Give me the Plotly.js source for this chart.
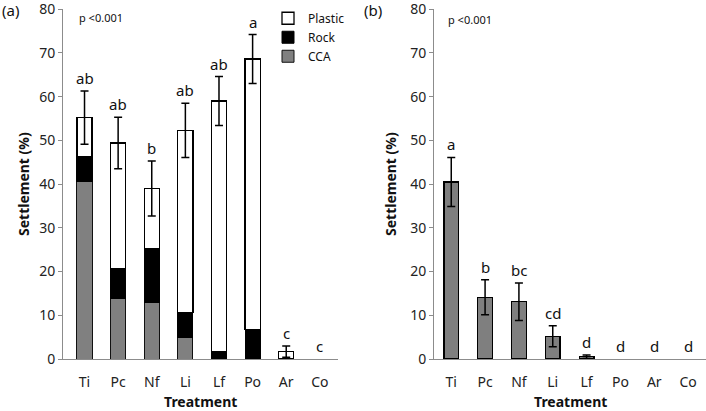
<!DOCTYPE html>
<html><head><meta charset="utf-8">
<script src="https://cdn.plot.ly/plotly-3.0.1.min.js"></script>
<style>html,body{margin:0;padding:0;background:#fff}#chart{width:706px;height:411px}</style>
</head><body><div id="chart"></div>
<script>
// Panel (a): settlement by substrate
var categories = ["Ti","Pc","Nf","Li","Lf","Po","Ar","Co"];
var ccaA     = [40.5, 13.9, 12.9, 5.0, 0, 0, 0, 0];
var rockA    = [5.8, 6.7, 12.4, 5.6, 1.7, 6.7, 0, 0];
var plasticA = [8.9, 28.8, 13.7, 41.7, 57.3, 61.9, 1.7, 0];
var errA     = [6.1, 5.9, 6.3, 6.2, 5.6, 5.6, 1.3, 0];
var lettersA = ["ab","ab","b","ab","ab","a","c","c"];
// Panel (b): settlement on CCA
var valuesB  = [40.5, 14.1, 13.1, 5.2, 0.5, 0, 0, 0];
var errB     = [5.6, 4.0, 4.3, 2.4, 0.4, 0, 0, 0];
var lettersB = ["a","b","bc","cd","d","d","d","d"];
var yTicks = [0,10,20,30,40,50,60,70,80];

var FONT = "Noto Sans, Open Sans, sans-serif";
var totalsA = categories.map(function(c,i){return ccaA[i]+rockA[i]+plasticA[i];});
function lw(arr, w){return arr.map(function(v){return v>0?w:0;});}

var traces = [
  {type:"bar", name:"CCA", x:categories, y:ccaA, xaxis:"x", yaxis:"y", width:0.45,
   marker:{color:"#808080", line:{color:"#111", width:lw(ccaA,1)}}},
  {type:"bar", name:"Rock", x:categories, y:rockA, xaxis:"x", yaxis:"y", width:0.45,
   marker:{color:"#000", line:{color:"#000", width:lw(rockA,1)}}},
  {type:"bar", name:"Plastic", x:categories, y:plasticA, xaxis:"x", yaxis:"y", width:0.45,
   marker:{color:"#fff", line:{color:"#000", width:lw(plasticA,1.3)}}},
  {type:"scatter", mode:"markers", x:categories, y:totalsA.map(function(v){return v>0?v:null;}), xaxis:"x", yaxis:"y", showlegend:false,
   marker:{opacity:0, size:1}, hoverinfo:"skip",
   error_y:{type:"data", array:errA, visible:true, color:"#000", thickness:1.5, width:4}},
  {type:"bar", name:"CCA b", x:categories, y:valuesB, xaxis:"x2", yaxis:"y2", width:0.43, showlegend:false,
   marker:{color:"#7f7f7f", line:{color:"#000", width:lw(valuesB,1.3)}}},
  {type:"scatter", mode:"markers", x:categories, y:valuesB.map(function(v){return v>0?v:null;}), xaxis:"x2", yaxis:"y2", showlegend:false,
   marker:{opacity:0, size:1}, hoverinfo:"skip",
   error_y:{type:"data", array:errB, visible:true, color:"#000", thickness:1.5, width:4}}
];

var annotations = [];
categories.forEach(function(c,i){
  annotations.push({xref:"x", yref:"y", x:c, y:totalsA[i]+errA[i], text:lettersA[i], showarrow:false,
    yanchor:"bottom", yshift:1, font:{family:FONT, size:15, color:"#111"}});
  annotations.push({xref:"x2", yref:"y2", x:c, y:valuesB[i]+errB[i], text:lettersB[i], showarrow:false,
    yanchor:"bottom", yshift:1, font:{family:FONT, size:15, color:"#111"}});
});
function pap(px){return (359-px)/350;}
annotations.push(
  {xref:"paper", yref:"paper", x:0/706, y:pap(10), xanchor:"left", yanchor:"middle", text:"(a)", showarrow:false, font:{family:FONT,size:15,color:"#111"}},
  {xref:"paper", yref:"paper", x:362/706, y:pap(10), xanchor:"left", yanchor:"middle", text:"(b)", showarrow:false, font:{family:FONT,size:15,color:"#111"}},
  {xref:"paper", yref:"paper", x:77/706, y:pap(18), xanchor:"left", yanchor:"middle", text:"p <0.001", showarrow:false, font:{family:FONT,size:11,color:"#111"}},
  {xref:"paper", yref:"paper", x:446/706, y:pap(19), xanchor:"left", yanchor:"middle", text:"p <0.001", showarrow:false, font:{family:FONT,size:11,color:"#111"}},
  {xref:"paper", yref:"paper", x:23/706, y:pap(184), xanchor:"center", yanchor:"middle", textangle:-90, text:"<b>Settlement (%)</b>", showarrow:false, font:{family:FONT,size:14,color:"#111"}},
  {xref:"paper", yref:"paper", x:390/706, y:pap(184), xanchor:"center", yanchor:"middle", textangle:-90, text:"<b>Settlement (%)</b>", showarrow:false, font:{family:FONT,size:14,color:"#111"}},
  {xref:"paper", yref:"paper", x:200/706, y:pap(401), xanchor:"center", yanchor:"middle", text:"<b>Treatment</b>", showarrow:false, font:{family:FONT,size:14,color:"#111"}},
  {xref:"paper", yref:"paper", x:570/706, y:pap(401), xanchor:"center", yanchor:"middle", text:"<b>Treatment</b>", showarrow:false, font:{family:FONT,size:14,color:"#111"}}
);

var yax = {range:[0,80.05], tickvals:yTicks, showgrid:false, zeroline:false, showline:true, linecolor:"#8c8c8c", linewidth:1,
  ticks:"outside", ticklen:4, tickcolor:"#8c8c8c", ticklabeloverflow:"allow", tickfont:{family:FONT,size:14,color:"#222"}, fixedrange:true};
var xax = {showgrid:false, zeroline:false, showline:true, linecolor:"#8c8c8c", linewidth:1, ticks:"outside", ticklen:10,
  tickcolor:"rgba(0,0,0,0)", tickfont:{family:FONT,size:14,color:"#222"}, type:"category", fixedrange:true};

var layout = {
  width:706, height:411, margin:{l:0,r:0,t:9,b:52}, paper_bgcolor:"#fff", plot_bgcolor:"#fff",
  barmode:"stack", showlegend:true,
  legend:{x:268/706, y:1.015, xanchor:"left", yanchor:"top", traceorder:"reversed", font:{family:FONT,size:12,color:"#111"},
    bgcolor:"rgba(0,0,0,0)", itemwidth:30},
  xaxis:Object.assign({}, xax, {domain:[63/706, 338/706], range:[-0.64, 7.54], anchor:"y"}),
  yaxis:Object.assign({}, yax, {domain:[0,1], anchor:"x"}),
  xaxis2:Object.assign({}, xax, {domain:[434/706, 1], range:[-0.51, 7.53], anchor:"y2"}),
  yaxis2:Object.assign({}, yax, {domain:[0,1], anchor:"x2"}),
  annotations:annotations
};
Plotly.newPlot("chart", traces, layout, {staticPlot:true});
</script></body></html>
